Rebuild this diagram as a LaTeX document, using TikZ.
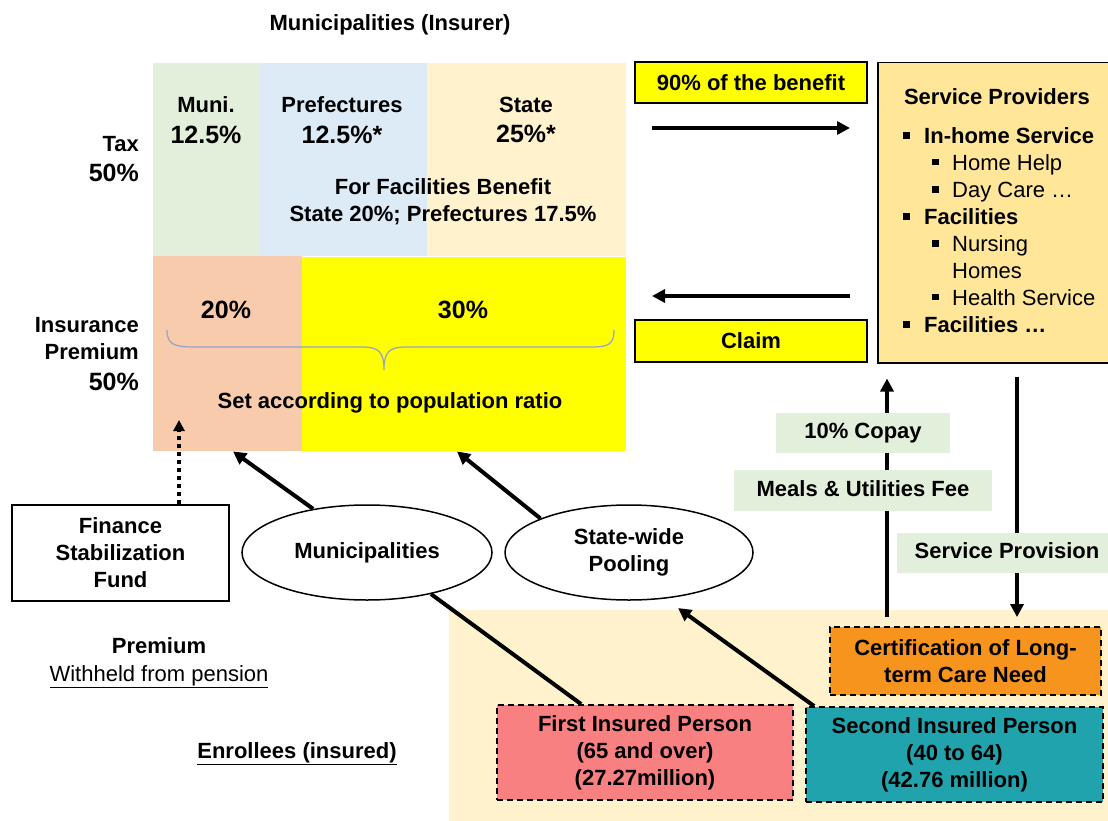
\documentclass[tikz,border=0pt]{standalone}
\usepackage{fontspec}
\setmainfont{Liberation Sans}
\usetikzlibrary{arrows.meta,shapes.geometric}
\definecolor{cGreen}{HTML}{E2EFDA}
\definecolor{cBlue}{HTML}{DDEBF7}
\definecolor{cCream}{HTML}{FFF2CC}
\definecolor{cPink}{HTML}{F8CBAD}
\definecolor{cYellow}{HTML}{FFFF00}
\definecolor{cSP}{HTML}{FFE699}
\definecolor{cFirst}{HTML}{F98080}
\definecolor{cTeal}{HTML}{21A3AD}
\definecolor{cOrange}{HTML}{F7941E}
\definecolor{cBrace}{HTML}{93A3C8}
\newcommand\sqb{\rule[5pt]{6.5pt}{6.5pt}}
\begin{document}
\begin{tikzpicture}[x=1pt,y=-1pt,
  txt/.style={font=\bfseries\fontsize{22}{27}\selectfont, inner sep=0pt, anchor=base},
  reg/.style={font=\fontsize{22}{27}\selectfont, inner sep=0pt, anchor=base},
  big/.style={font=\bfseries\fontsize{25}{30}\selectfont, inner sep=0pt, anchor=base},
  blk/.style={draw=none, inner sep=0pt, anchor=north west},
  boxed/.style={draw=black, line width=1.5pt, inner sep=0pt, align=center,
    font=\bfseries\fontsize{22}{27}\selectfont},
  dbox/.style={draw=black, line width=1.8pt, dash pattern=on 6pt off 4pt, inner sep=0pt,
    align=center, font=\bfseries\fontsize{22}{27}\selectfont},
  lbl/.style={fill=cGreen, inner sep=0pt, text height=16pt, text depth=5pt,
    font=\bfseries\fontsize{22}{27}\selectfont},
  ell/.style={ellipse, draw=black, line width=1.5pt, inner sep=0pt, align=center,
    font=\bfseries\fontsize{22}{27}\selectfont},
  arr/.style={line width=4pt, -{Triangle[length=13pt,width=13pt]}},
  darr/.style={line width=3.5pt, dash pattern=on 4pt off 4pt, -{Triangle[length=11pt,width=11pt]}},
]
\useasboundingbox (0,0) rectangle (1108,821);
\clip (0,0) rectangle (1108,821);
\fill[white] (0,0) rectangle (1108,821);

% background of enrollees
\node[blk, fill=cCream, minimum width=670pt, minimum height=220pt] (bg) at (449,610) {};

% insurer blocks
\node[blk, fill=cGreen, minimum width=106pt, minimum height=193pt] (muniT) at (153,63) {};
\node[blk, fill=cBlue, minimum width=168pt, minimum height=193pt] (prefT) at (259,63) {};
\node[blk, fill=cCream, minimum width=199pt, minimum height=193pt] (stateT) at (427,63) {};
\node[blk, fill=cPink, minimum width=149pt, minimum height=195pt] (pinkB) at (153,256) {};
\node[blk, fill=cYellow, minimum width=324pt, minimum height=194pt] (yellowB) at (302,257) {};

% brace
\draw[cBrace, line width=1.2pt] (167,330) .. controls (167,345) and (175,347) .. (195,347)
  -- (362,347) .. controls (379,347) and (384,352) .. (384,370)
  .. controls (384,352) and (389,347) .. (406,347) -- (590,347)
  .. controls (608,347) and (614,345) .. (614,330);

% block texts
\node[txt] (title) at (390,31) {Municipalities (Insurer)};
\node[txt] (tmuni) at (206,113) {Muni.};
\node[big] (pmuni) at (206,144) {12.5\%};
\node[txt] (tpref) at (342,113) {Prefectures};
\node[big] (ppref) at (342,144) {12.5\%*};
\node[txt] (tstate) at (526,113) {State};
\node[big] (pstate) at (526,143) {25\%*};
\node[txt] (fac1) at (443,195) {For Facilities Benefit};
\node[txt] (fac2) at (443,221.5) {State 20\%; Prefectures 17.5\%};
\node[txt, anchor=base east] (tax) at (139,151.5) {Tax};
\node[big, anchor=base east] (tax50) at (139,181.5) {50\%};
\node[txt, anchor=base east] (ins) at (139,332) {Insurance};
\node[txt, anchor=base east] (prem) at (139,359) {Premium};
\node[big, anchor=base east] (ins50) at (139,390) {50\%};
\node[big] (p20) at (226,318) {20\%};
\node[big] (p30) at (463,318) {30\%};
\node[txt] (pop) at (390,408) {Set according to population ratio};

% left texts
\node[txt] (premium) at (159,653) {Premium};
\node[reg] (withheld) at (159,681) {\underline{Withheld from pension}};
\node[txt] (enroll) at (297,758) {\underline{Enrollees (insured)}};

% benefit / claim
\node[boxed, fill=cYellow, minimum width=232pt, minimum height=41pt] (b90) at (751,82.5) {90\% of the benefit};
\node[boxed, fill=cYellow, minimum width=232pt, minimum height=42pt] (claim) at (751,341) {Claim};
\coordinate (r1s) at (652,128);
\coordinate (r1e) at (850,128);
\coordinate (l1s) at (850,296);
\coordinate (l1e) at (652,296);
\draw[arr] (r1s) -- (r1e);
\draw[arr] (l1s) -- (l1e);

% service providers
\node[blk, draw=black, line width=1.5pt, fill=cSP, minimum width=250pt, minimum height=300pt] (sp) at (877,62) {};
\node[txt] (spt) at (997,105) {Service Providers};
\node[txt, anchor=base west] (sp1) at (903,144) {\sqb\hspace{14.5pt}In-home Service};
\node[reg, anchor=base west] (sp2) at (932,170.5) {\sqb\hspace{13.5pt}Home Help};
\node[reg, anchor=base west] (sp3) at (932,197.5) {\sqb\hspace{13.5pt}Day Care …};
\node[txt, anchor=base west] (sp4) at (903,225) {\sqb\hspace{14.5pt}Facilities};
\node[reg, anchor=base west] (sp5) at (932,251.5) {\sqb\hspace{13.5pt}Nursing};
\node[reg, anchor=base west] (sp5b) at (952,278) {Homes};
\node[reg, anchor=base west] (sp6) at (932,305) {\sqb\hspace{13.5pt}Health Service};
\node[txt, anchor=base west] (sp7) at (903,332.5) {\sqb\hspace{14.5pt}Facilities …};

% enrollee boxes
\node[dbox, fill=cOrange, minimum width=271pt, minimum height=68pt] (cert) at (965.5,661) {Certification of Long-\\term Care Need};
\node[dbox, fill=cFirst, minimum width=296pt, minimum height=95pt] (first) at (645,752.5) {First Insured Person\\(65 and over)\\(27.27million)};
\node[dbox, fill=cTeal, minimum width=297pt, minimum height=95pt] (second) at (954.5,754.5) {Second Insured Person\\(40 to 64)\\(42.76 million)};

% ellipses and fund
\node[ell, minimum width=250pt, minimum height=95pt] (muni) at (367,552.5) {Municipalities};
\node[ell, minimum width=248pt, minimum height=95pt] (sw) at (629,552.5) {State-wide\\Pooling};
\node[boxed, minimum width=217pt, minimum height=96pt] (fund) at (120.5,553) {Finance\\Stabilization\\Fund};

% connectors
\coordinate (dtip) at (179,420);
\draw[darr] (fund.north -| dtip) -- (dtip);
\draw[arr] (muni.141) -- ([xshift=80pt]pinkB.south west);
\draw[arr] (sw.159) -- ([xshift=155pt]yellowB.south west);
\draw[line width=4pt] ([xshift=85pt]first.north west) -- (muni.-33);
\draw[arr, shorten >=16pt] ([xshift=9pt]second.north west) -- (sw.-52);
\draw[arr, shorten <=9pt, shorten >=15pt] (cert.north -| 887,0) -- (sp.south -| 887,0);
\draw[arr, shorten <=13pt, shorten >=9pt] (sp.south -| 1017,0) -- (cert.north -| 1017,0);

% labels on the vertical arrows
\node[lbl, minimum width=174pt, minimum height=40pt] (copay) at (863,433) {10\% Copay};
\node[lbl, minimum width=258pt, minimum height=41pt] (meals) at (863,490.5) {Meals \& Utilities Fee};
\node[lbl, minimum width=220pt, minimum height=40pt] (prov) at (1007,553) {Service Provision};
\end{tikzpicture}
\end{document}
